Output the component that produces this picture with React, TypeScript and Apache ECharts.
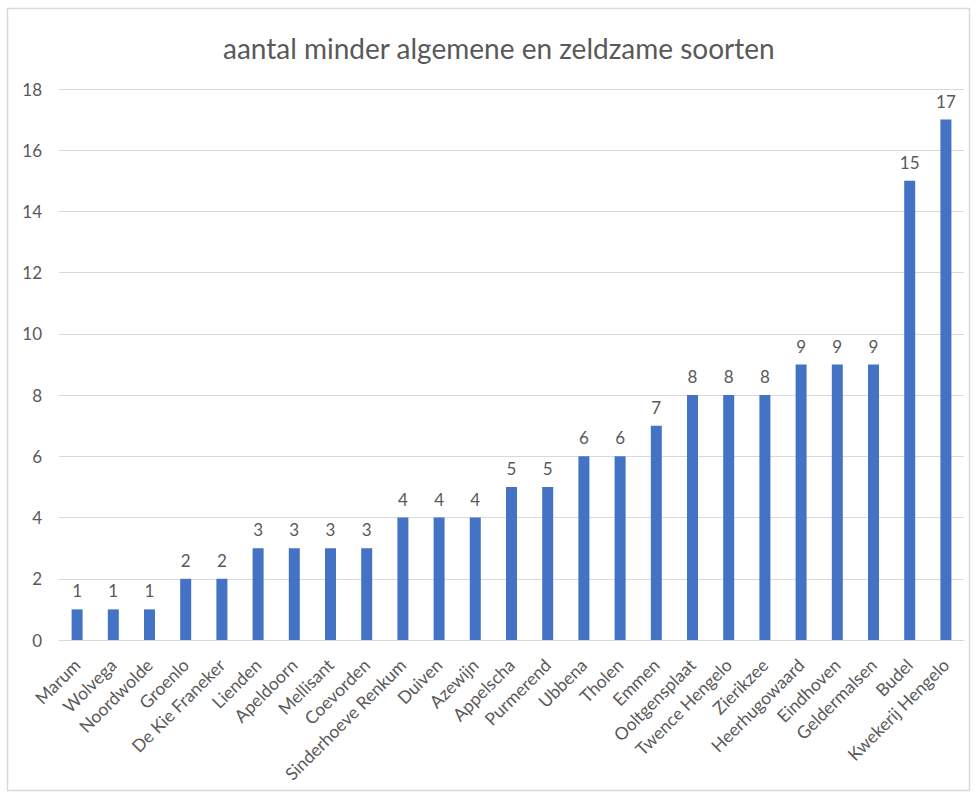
import React, { useEffect, useRef } from "react";
import * as echarts from "echarts";

const categories = [
  "Marum", "Wolvega", "Noordwolde", "Groenlo", "De Kie Franeker", "Lienden",
  "Apeldoorn", "Mellisant", "Coevorden", "Sinderhoeve Renkum", "Duiven", "Azewijn",
  "Appelscha", "Purmerend", "Ubbena", "Tholen", "Emmen", "Ooltgensplaat",
  "Twence Hengelo", "Zierikzee", "Heerhugowaard", "Eindhoven", "Geldermalsen",
  "Budel", "Kwekerij Hengelo",
];
const values = [1, 1, 1, 2, 2, 3, 3, 3, 3, 4, 4, 4, 5, 5, 6, 6, 7, 8, 8, 8, 9, 9, 9, 15, 17];
const title = "aantal minder algemene en zeldzame soorten";

export default function App() {
  const ref = useRef<HTMLDivElement>(null);
  useEffect(() => {
    if (!ref.current) return;
    const chart = echarts.init(ref.current, undefined, { renderer: "svg" });
    const font = "Lato, 'Open Sans', sans-serif";
    chart.setOption({
      animation: false,
      backgroundColor: "#ffffff",
      textStyle: { fontFamily: font },
      title: {
        text: title,
        left: 218,
        top: 29,
        textStyle: { fontFamily: font, fontSize: 28, fontWeight: "normal", color: "#595959" },
      },
      graphic: [
        {
          type: "rect",
          shape: { x: 7.5, y: 8.5, width: 962, height: 782 },
          style: { fill: "none", stroke: "#d9d9d9", lineWidth: 1.5 },
          silent: true,
        },
      ],
      grid: { left: 59, right: 14, top: 89, bottom: 158, containLabel: false },
      xAxis: {
        type: "category",
        data: categories,
        axisLine: { lineStyle: { color: "#d9d9d9", width: 1 } },
        axisTick: { show: false },
        axisLabel: {
          interval: 0,
          rotate: 45,
          margin: 22,
          color: "#595959",
          fontSize: 17.5,
          fontFamily: font,
        },
      },
      yAxis: {
        type: "value",
        min: 0,
        max: 18,
        interval: 2,
        axisLine: { show: false },
        axisTick: { show: false },
        splitLine: { lineStyle: { color: "#d9d9d9", width: 1 } },
        axisLabel: { color: "#595959", fontSize: 17, margin: 17, fontFamily: font },
      },
      series: [
        {
          type: "bar",
          data: values,
          barWidth: 11,
          itemStyle: { color: "#4472c4" },
          label: {
            show: true,
            position: "top",
            distance: 10,
            color: "#595959",
            fontSize: 17,
            fontFamily: font,
          },
        },
      ],
    });
    return () => chart.dispose();
  }, []);
  return (
    <div
      ref={ref}
      style={{ position: "absolute", left: 0, top: 0, width: 978, height: 798 }}
    />
  );
}
